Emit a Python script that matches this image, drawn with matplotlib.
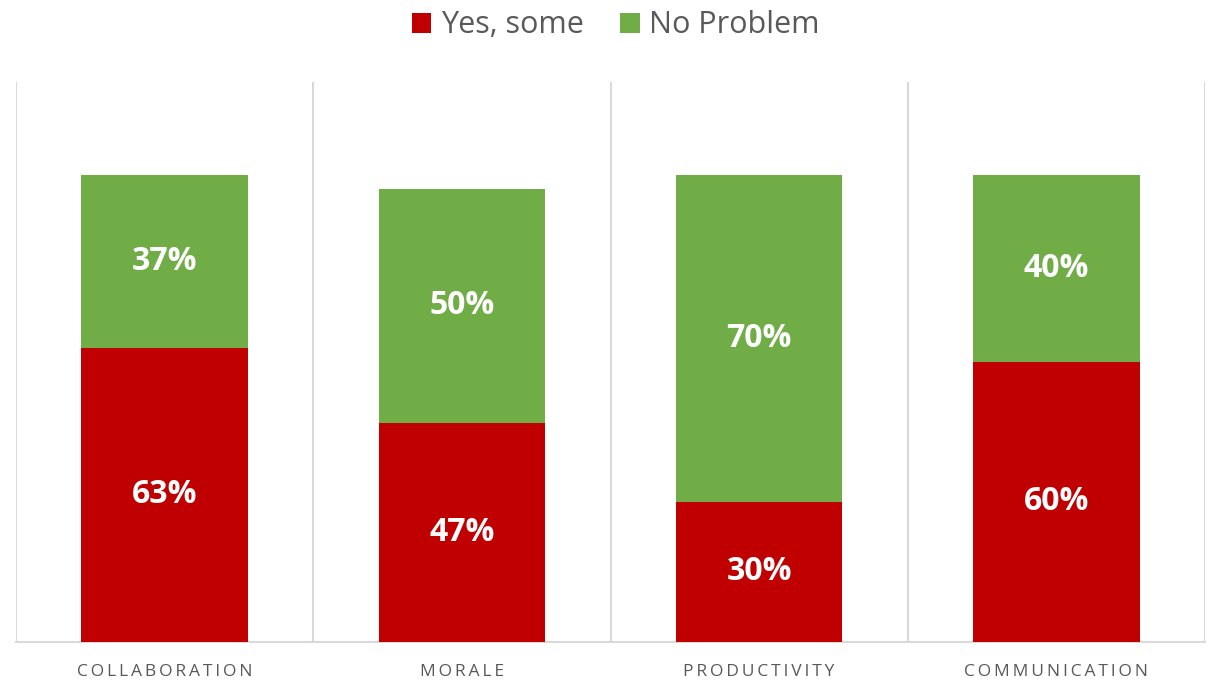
import matplotlib.pyplot as plt
import numpy as np

categories = ["COLLABORATION", "MORALE", "PRODUCTIVITY", "COMMUNICATION"]
yes_some = [0.63, 0.47, 0.30, 0.60]
no_problem = [0.37, 0.50, 0.70, 0.40]
series_names = ["Yes, some", "No Problem"]

RED = "#C00000"
GREEN = "#70AD47"
GRID = "#D9D9D9"
TEXT = "#595959"

plt.rcParams["font.family"] = ["Open Sans", "DejaVu Sans"]

fig = plt.figure(figsize=(12.07, 6.82), dpi=100)
ax = fig.add_axes([16 / 1207, 40 / 682, 1189 / 1207, 560 / 682])

x = np.arange(len(categories))
w = 0.56
b1 = ax.bar(x, yes_some, w, color=RED, label=series_names[0], zorder=3)
b2 = ax.bar(x, no_problem, w, bottom=yes_some, color=GREEN, label=series_names[1], zorder=3)

for xi, a, b in zip(x, yes_some, no_problem):
    ax.text(xi, a / 2, f"{a*100:.0f}%", ha="center", va="center",
            color="white", fontsize=23, fontweight="bold", zorder=4)
    ax.text(xi, a + b / 2, f"{b*100:.0f}%", ha="center", va="center",
            color="white", fontsize=23, fontweight="bold", zorder=4)

ax.set_xlim(-0.5, len(categories) - 0.5)
ax.set_ylim(0, 1.2)
ax.set_yticks([])
for xv in np.arange(-0.5, len(categories), 1.0):
    ax.axvline(xv, color=GRID, lw=1.5, zorder=1)
for s in ["top", "right", "left"]:
    ax.spines[s].set_visible(False)
ax.spines["bottom"].set_color(GRID)
ax.spines["bottom"].set_linewidth(1.5)

ax.set_xticks(x)
ax.set_xticklabels(["\u2009".join(c) for c in categories],
                   fontsize=12.5, color=TEXT, family=["Open Sans", "DejaVu Sans"])
ax.tick_params(axis="x", length=0, pad=16)

fig.legend(handles=[b1, b2], labels=series_names, loc="upper center",
           bbox_to_anchor=(0.51, 1.025), ncol=2, frameon=False,
           fontsize=22, labelcolor=TEXT, handlelength=0.65, handleheight=0.65,
           handletextpad=0.3, columnspacing=1.2)

fig.savefig("out.png", dpi=100)
